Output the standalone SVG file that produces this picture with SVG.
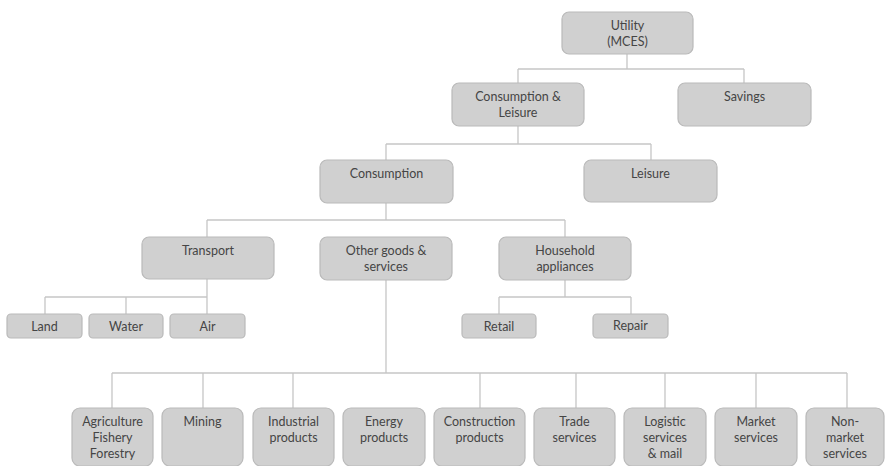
<svg xmlns="http://www.w3.org/2000/svg" width="885" height="466" viewBox="0 0 885 466">
<style>
.n rect{fill:#d0d0d0;stroke:#bababa;stroke-width:1.2}
.n text{font-family:Lato,"Open Sans","Liberation Sans",sans-serif;font-size:12.5px;fill:#454545;text-anchor:middle}
.c path{fill:none;stroke:#c6c6c6;stroke-width:1.3}
</style>
<rect width="885" height="466" fill="#ffffff"/>
<g class="c">
<path d="M627 54V69M518 69H744M518 69V83M744 69V83"/>
<path d="M518 126V144M386 144H651M386 144V160M651 144V160"/>
<path d="M386 203V220M207 220H565M207 220V237M565 220V237"/>
<path d="M207 279V297M45 297H207M45 297V314M126 297V314M207 297V314"/>
<path d="M565 280V297M499 297H631M499 297V314M631 297V314"/>
<path d="M386 280V373M112 373H847M112 373V408M203 373V408M293 373V408M480 373V408M576 373V408M665 373V408M756 373V408M847 373V408"/>
</g>
<g id="utility" class="n"><rect x="562" y="12" width="131" height="42" rx="7"/><text x="627.5" y="30">Utility</text><text x="627.5" y="46">(MCES)</text></g>
<g id="consumption-leisure" class="n"><rect x="452" y="83" width="132" height="43" rx="7"/><text x="518" y="101">Consumption &amp;</text><text x="518" y="117">Leisure</text></g>
<g id="savings" class="n"><rect x="678" y="83" width="133" height="43" rx="7"/><text x="744.5" y="101">Savings</text></g>
<g id="consumption" class="n"><rect x="320" y="160" width="133" height="43" rx="7"/><text x="386.5" y="178">Consumption</text></g>
<g id="leisure" class="n"><rect x="584" y="160" width="133" height="42" rx="7"/><text x="650.5" y="178">Leisure</text></g>
<g id="transport" class="n"><rect x="142" y="237" width="132" height="42" rx="7"/><text x="208" y="255">Transport</text></g>
<g id="other-goods" class="n"><rect x="320" y="237" width="132" height="43" rx="7"/><text x="386" y="255">Other goods &amp;</text><text x="386" y="271">services</text></g>
<g id="household" class="n"><rect x="499" y="237" width="132" height="43" rx="7"/><text x="565" y="255">Household</text><text x="565" y="271">appliances</text></g>
<g id="land" class="n"><rect x="7" y="314" width="75" height="24" rx="4"/><text x="44.5" y="330.5">Land</text></g>
<g id="water" class="n"><rect x="89" y="314" width="74" height="24" rx="4"/><text x="126" y="330.5">Water</text></g>
<g id="air" class="n"><rect x="170" y="314" width="75" height="24" rx="4"/><text x="207.5" y="330.5">Air</text></g>
<g id="retail" class="n"><rect x="462" y="314" width="74" height="24" rx="4"/><text x="499" y="330.5">Retail</text></g>
<g id="repair" class="n"><rect x="593" y="314" width="75" height="24" rx="4"/><text x="630.5" y="330">Repair</text></g>
<g id="agriculture" class="n"><rect x="72" y="408" width="81" height="58" rx="8"/><text x="112.5" y="426">Agriculture</text><text x="112.5" y="442">Fishery</text><text x="112.5" y="458">Forestry</text></g>
<g id="mining" class="n"><rect x="162" y="408" width="81" height="58" rx="8"/><text x="202.5" y="426">Mining</text></g>
<g id="industrial" class="n"><rect x="253" y="408" width="81" height="58" rx="8"/><text x="293.5" y="426">Industrial</text><text x="293.5" y="442">products</text></g>
<g id="energy" class="n"><rect x="343" y="408" width="82" height="58" rx="8"/><text x="384" y="426">Energy</text><text x="384" y="442">products</text></g>
<g id="construction" class="n"><rect x="434" y="408" width="91" height="58" rx="8"/><text x="479.5" y="426">Construction</text><text x="479.5" y="442">products</text></g>
<g id="trade" class="n"><rect x="534" y="408" width="81" height="58" rx="8"/><text x="574.5" y="426">Trade</text><text x="574.5" y="442">services</text></g>
<g id="logistic" class="n"><rect x="624" y="408" width="82" height="58" rx="8"/><text x="665" y="426">Logistic</text><text x="665" y="442">services</text><text x="665" y="458">&amp; mail</text></g>
<g id="market" class="n"><rect x="715" y="408" width="82" height="58" rx="8"/><text x="756" y="426">Market</text><text x="756" y="442">services</text></g>
<g id="non-market" class="n"><rect x="806" y="408" width="78" height="58" rx="8"/><text x="845" y="426">Non-</text><text x="845" y="442">market</text><text x="845" y="458">services</text></g>
</svg>
